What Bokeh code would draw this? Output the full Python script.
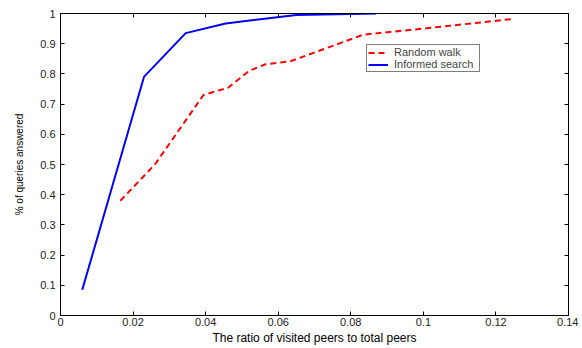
from bokeh.plotting import figure
from bokeh.models import LinearAxis, FixedTicker, Legend, LegendItem, Range1d
from bokeh.embed import file_html
from bokeh.resources import INLINE

# data
red_x = [0.0165, 0.026, 0.0394, 0.0463, 0.052, 0.0565, 0.0634, 0.0835, 0.1, 0.1248]
red_y = [0.38, 0.50, 0.73, 0.755, 0.81, 0.832, 0.842, 0.93, 0.95, 0.982]
blue_x = [0.006, 0.023, 0.0345, 0.0455, 0.065, 0.087]
blue_y = [0.085, 0.79, 0.935, 0.967, 0.995, 1.0]
x_ticks = [0, 0.02, 0.04, 0.06, 0.08, 0.1, 0.12, 0.14]
x_tick_labels = ["0", "0.02", "0.04", "0.06", "0.08", "0.1", "0.12", "0.14"]
y_ticks = [0, 0.1, 0.2, 0.3, 0.4, 0.5, 0.6, 0.7, 0.8, 0.9, 1.0]
y_tick_labels = ["0", "0.1", "0.2", "0.3", "0.4", "0.5", "0.6", "0.7", "0.8", "0.9", "1"]

FONT = "Liberation Sans"

p = figure(width=578, height=347, output_backend="svg", toolbar_location=None,
           x_range=Range1d(0, 0.14), y_range=Range1d(0, 1),
           min_border_left=60, min_border_right=10, min_border_top=13, min_border_bottom=31,
           x_axis_label="The ratio of visited peers to total peers",
           y_axis_label="% of queries answered")
p.grid.visible = False
p.outline_line_color = "black"
p.outline_line_width = 1

r1 = p.line(red_x, red_y, line_color="red", line_width=2, line_dash="6 4")
r2 = p.line(blue_x, blue_y, line_color="blue", line_width=2)

def style_axis(ax, ticks, labels=None, show_labels=True):
    ax.ticker = FixedTicker(ticks=ticks)
    if labels is not None:
        ax.major_label_overrides = {t: l for t, l in zip(ticks, labels)}
    ax.major_tick_in = 4
    ax.major_tick_out = 0
    ax.minor_tick_in = 0
    ax.minor_tick_out = 0
    ax.axis_line_color = "black"
    ax.axis_line_width = 1
    ax.major_tick_line_color = "black"
    ax.major_label_text_font = FONT
    ax.major_label_text_font_size = "10px"
    ax.major_label_text_color = "#222222"
    ax.axis_label_text_font = FONT
    ax.axis_label_text_font_size = "10px"
    ax.axis_label_text_font_style = "normal"
    ax.axis_label_text_color = "black"
    if not show_labels:
        ax.major_label_text_font_size = "0px"
        ax.major_label_text_alpha = 0

style_axis(p.xaxis[0], x_ticks, x_tick_labels)
style_axis(p.yaxis[0], y_ticks, y_tick_labels)
p.xaxis[0].major_label_text_font_size = "11px"
p.xaxis[0].axis_label_text_font_size = "12px"
p.xaxis[0].major_label_standoff = 2
p.xaxis[0].axis_label_standoff = 2
p.yaxis[0].major_label_text_font_size = "11px"
p.yaxis[0].major_label_standoff = 5
p.yaxis[0].axis_label_standoff = 12

top = LinearAxis()
style_axis(top, x_ticks, show_labels=False)
top.major_label_standoff = 0
p.add_layout(top, "above")
right = LinearAxis()
style_axis(right, y_ticks, show_labels=False)
right.major_label_standoff = 0
p.add_layout(right, "right")

legend = Legend(items=[LegendItem(label="Random walk", renderers=[r1]),
                       LegendItem(label="Informed search", renderers=[r2])],
                location=(306, 243))
legend.label_text_font = FONT
legend.label_text_font_size = "11px"
legend.label_height = 9
legend.glyph_height = 9
legend.glyph_width = 20
legend.label_width = 84
legend.label_standoff = 6
legend.spacing = 0
legend.padding = 1
legend.margin = 0
legend.border_line_color = "black"
legend.border_line_width = 1
legend.background_fill_alpha = 1
p.add_layout(legend)

open("out.html", "w").write(file_html(p, INLINE))
